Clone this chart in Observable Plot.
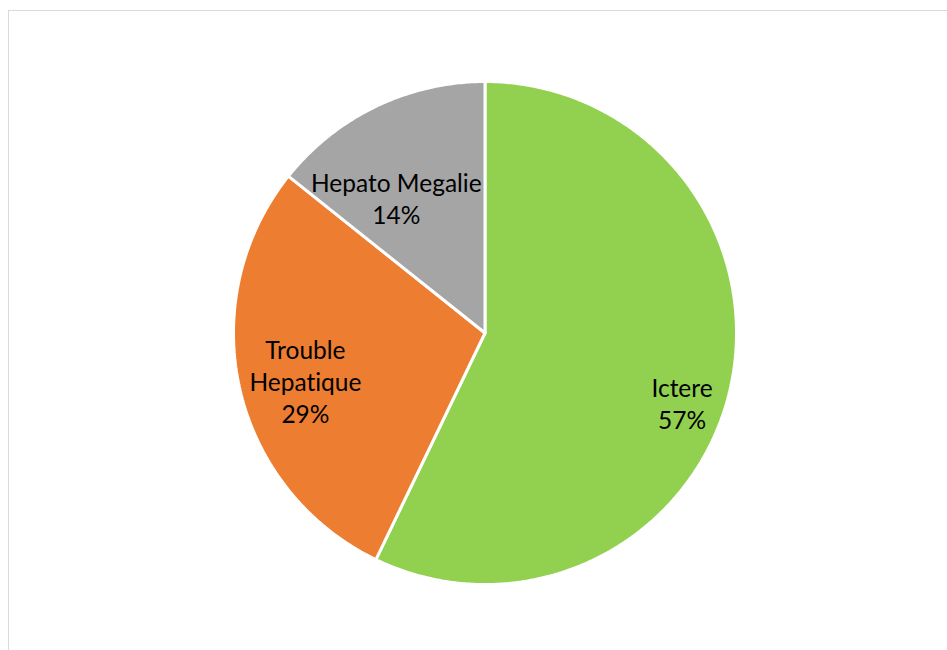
<!DOCTYPE html>
<html>
<head>
<meta charset="utf-8">
<script src="https://cdn.jsdelivr.net/npm/d3@7"></script>
<script src="https://cdn.jsdelivr.net/npm/@observablehq/plot@0.6"></script>
<style>
  html, body { margin: 0; padding: 0; background: #fff; overflow: hidden; }
  #wrap { position: relative; width: 947px; height: 650px; }
  #frame { position: absolute; left: 8px; top: 10px; width: 1200px; height: 1200px;
           border-left: 1.5px solid #d9d9d9; border-top: 1.5px solid #d9d9d9; pointer-events: none; }
  #chart { position: absolute; left: 0; top: 0; }
  #chart text { font-variant-ligatures: none; font-feature-settings: "liga" 0; }
</style>
</head>
<body>
<div id="wrap"><div id="frame"></div><div id="chart"></div></div>
<script>
// Data
const categories = ["Ictere", "Trouble Hepatique", "Hepato Megalie"];
const values = [4, 2, 1];
const labelText = ["Ictere", "Trouble\nHepatique", "Hepato Megalie"];
const colors = ["#92D050", "#ED7D31", "#A5A5A5"];

// Layout of labels (fraction of radius, angular nudge in degrees)
const labelRadius = [0.831, 0.739, 0.642];
const labelShift = [6.6, -2.1, -7.6];

const total = d3.sum(values);
const arcs = d3.pie().sort(null)(values);

// slice outlines in unit-circle coordinates (y up)
const outline = [];
arcs.forEach((a, i) => {
  const name = categories[i];
  outline.push({x: 0, y: 0, name});
  const n = Math.max(2, Math.ceil((a.endAngle - a.startAngle) / (Math.PI / 360)));
  for (let k = 0; k <= n; k++) {
    const t = a.startAngle + (a.endAngle - a.startAngle) * k / n;
    outline.push({x: Math.sin(t), y: Math.cos(t), name});
  }
  outline.push({x: 0, y: 0, name});
});

const labels = arcs.map((a, i) => {
  const mid = (a.startAngle + a.endAngle) / 2 + labelShift[i] * Math.PI / 180;
  const r = labelRadius[i];
  return {
    x: r * Math.sin(mid),
    y: r * Math.cos(mid),
    text: labelText[i] + "\n" + Math.round(values[i] / total * 100) + "%"
  };
});

const chart = Plot.plot({
  width: 947,
  height: 650,
  margin: 0,
  style: {background: "transparent", fontFamily: "Lato, 'Open Sans', sans-serif"},
  x: {domain: [-1, 1], range: [233, 736], axis: null},
  y: {domain: [-1, 1], range: [584, 81], axis: null},
  color: {domain: categories, range: colors},
  marks: [
    Plot.line(outline, {x: "x", y: "y", z: "name", fill: "name", stroke: "white",
      strokeWidth: 3, strokeLinejoin: "miter", curve: "linear"}),
    Plot.text(labels, {x: "x", y: "y", text: "text", fill: "#000", fontSize: 24.5,
      lineHeight: 1.3, lineAnchor: "middle", textAnchor: "middle"})
  ]
});
document.getElementById("chart").appendChild(chart);
</script>
</body>
</html>
